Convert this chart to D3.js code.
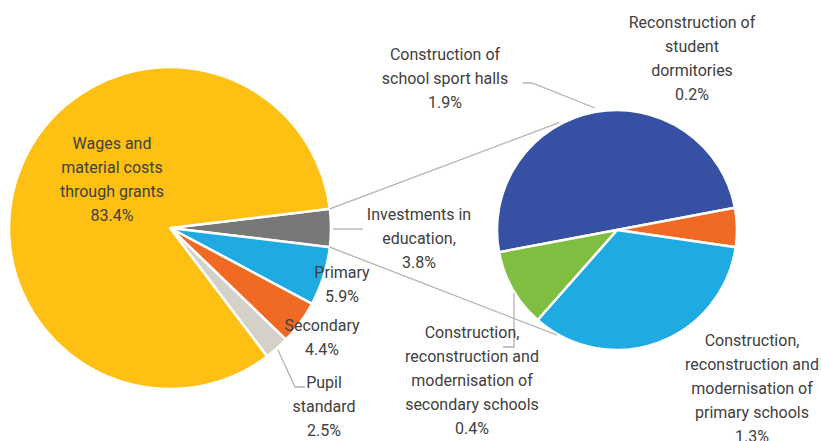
<!DOCTYPE html>
<html>
<head>
<meta charset="utf-8">
<script src="https://cdn.jsdelivr.net/npm/d3@7"></script>
<style>
  html, body { margin: 0; padding: 0; background: #fff; }
  svg { display: block; }
  text { font-family: Roboto, "Noto Sans", sans-serif; font-size: 16px; fill: #404040; }
</style>
</head>
<body>
<svg id="chart" width="821" height="441"></svg>
<script>
// Budget split (share of total, %)
const mainCategories = ["Investments in education,", "Primary", "Secondary", "Pupil standard", "Wages and material costs through grants"];
const mainValues = [3.8, 5.9, 4.4, 2.5, 83.4];
const mainColors = ["#787878", "#20AAE2", "#F16A24", "#D6D1C8", "#FEC013"];

// Breakdown of the investments slice (%)
const subCategories = ["Construction of school sport halls", "Reconstruction of student dormitories", "Construction, reconstruction and modernisation of primary schools", "Construction, reconstruction and modernisation of secondary schools"];
const subValues = [1.9, 0.2, 1.3, 0.4];
const subColors = ["#3651A3", "#F16A24", "#20AAE2", "#80BE41"];

// Label lines, one entry per slice
const mainLabels = [
  ["Investments in", "education,", "3.8%"],
  ["Primary", "5.9%"],
  ["Secondary", "4.4%"],
  ["Pupil", "standard", "2.5%"],
  ["Wages and", "material costs", "through grants", "83.4%"]
];
const subLabels = [
  ["Construction of", "school sport halls", "1.9%"],
  ["Reconstruction of", "student", "dormitories", "0.2%"],
  ["Construction,", "reconstruction and", "modernisation of", "primary schools", "1.3%"],
  ["Construction,", "reconstruction and", "modernisation of", "secondary schools", "0.4%"]
];

const svg = d3.select("#chart");
const deg = Math.PI / 180;

// ---- main pie ----
const mc = { x: 170, y: 228, r: 161 };
const mainTotal = d3.sum(mainValues);
const mainStart = 90 * deg - (mainValues[0] / mainTotal) * Math.PI; // investments slice centred at 3 o'clock
const mainPie = d3.pie().sort(null).value(d => d)
  .startAngle(mainStart).endAngle(mainStart + 2 * Math.PI);
const mainArcs = mainPie(mainValues);
const mainArc = d3.arc().innerRadius(0).outerRadius(mc.r);

const gMain = svg.append("g").attr("transform", `translate(${mc.x},${mc.y})`);
gMain.selectAll("path").data(mainArcs).join("path")
  .attr("d", mainArc)
  .attr("fill", (d, i) => mainColors[i])
  .attr("stroke", "#fff").attr("stroke-width", 2.5).attr("stroke-linejoin", "round");

// ---- secondary pie ----
const sc = { x: 617, y: 230, r: 120 };
const subStart = -100.7 * deg;
const subPie = d3.pie().sort(null).value(d => d)
  .startAngle(subStart).endAngle(subStart + 2 * Math.PI);
const subArcs = subPie(subValues);
const subArc = d3.arc().innerRadius(0).outerRadius(sc.r);

const gSub = svg.append("g").attr("transform", `translate(${sc.x},${sc.y})`);
gSub.selectAll("path").data(subArcs).join("path")
  .attr("d", subArc)
  .attr("fill", (d, i) => subColors[i])
  .attr("stroke", "#fff").attr("stroke-width", 2.5).attr("stroke-linejoin", "round");

// polar helper (d3 angle convention: 0 at 12 o'clock, clockwise)
const polar = (c, r, a) => [c.x + r * Math.sin(a), c.y - r * Math.cos(a)];

// ---- connector lines between the pies ----
const inv = mainArcs[0];
const connectors = [
  [polar(mc, mc.r, inv.startAngle), polar(sc, sc.r + 2, 331.7 * deg)],
  [polar(mc, mc.r, inv.endAngle), polar(sc, sc.r + 1, 209.6 * deg)]
];
svg.append("g").selectAll("line").data(connectors).join("line")
  .attr("x1", d => d[0][0]).attr("y1", d => d[0][1])
  .attr("x2", d => d[1][0]).attr("y2", d => d[1][1])
  .attr("stroke", "#b3b3b3").attr("stroke-width", 1.3);

// ---- leader lines ----
const leaders = [
  [[333, 229], [363, 229]],
  [[278, 350], [295, 387], [305, 387]],
  [[523, 83], [532, 83], [595, 108]],
  [[514, 293], [514, 347], [503, 347]]
];
svg.append("g").selectAll("path").data(leaders).join("path")
  .attr("d", d => d3.line()(d))
  .attr("fill", "none").attr("stroke", "#b3b3b3").attr("stroke-width", 1.3);

// ---- labels ----
const lineH = 24;
const mainLabelPos = [[419, 220], [342, 278], [322, 331], [324, 388], [112, 149]];
const subLabelPos = [[445, 60], [692, 28], [752, 346], [472, 338]];

function drawLabel(lines, pos) {
  const t = svg.append("text").attr("text-anchor", "middle")
    .attr("x", pos[0]).attr("y", pos[1]);
  lines.forEach((s, i) => {
    t.append("tspan").attr("x", pos[0]).attr("y", pos[1] + i * lineH).text(s);
  });
}
mainLabels.forEach((l, i) => drawLabel(l, mainLabelPos[i]));
subLabels.forEach((l, i) => drawLabel(l, subLabelPos[i]));
</script>
</body>
</html>
